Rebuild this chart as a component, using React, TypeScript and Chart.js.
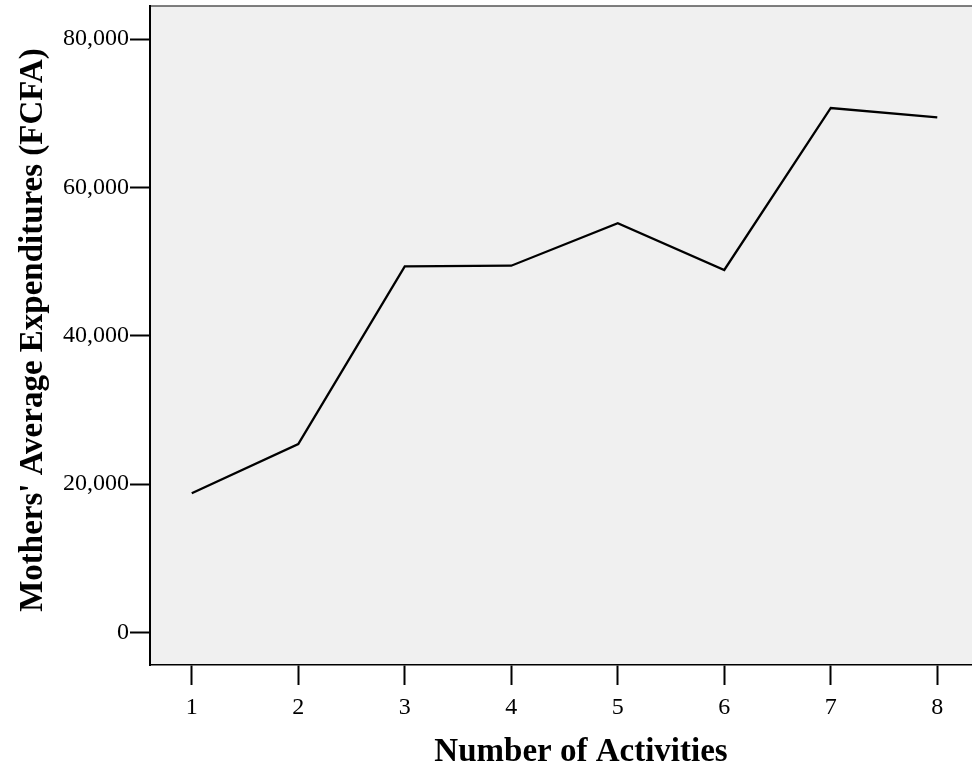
import React, { useEffect, useRef } from "react";
import { Chart, registerables } from "chart.js";

Chart.register(...registerables);

const activities = [1, 2, 3, 4, 5, 6, 7, 8];
const expenditures = [18750, 25390, 49360, 49440, 55160, 48860, 70710, 69450];
const yTickValues = [0, 20000, 40000, 60000, 80000];
const xTitle = "Number of Activities";
const yTitle = "Mothers' Average Expenditures (FCFA)";

const SERIF = "'Liberation Serif', 'Times New Roman', serif";

const backgroundPlugin = {
  id: "plotBg",
  beforeDraw(chart: any) {
    const { ctx, chartArea } = chart;
    if (!chartArea) return;
    ctx.save();
    ctx.fillStyle = "#f0f0f0";
    ctx.fillRect(chartArea.left, chartArea.top, chartArea.right - chartArea.left, chartArea.bottom - chartArea.top);
    ctx.strokeStyle = "#555555";
    ctx.lineWidth = 1.5;
    ctx.beginPath();
    ctx.moveTo(chartArea.left, chartArea.top);
    ctx.lineTo(chartArea.right, chartArea.top);
    ctx.stroke();
    ctx.restore();
  },
  afterDraw(chart: any) {
    const { ctx } = chart;
    ctx.save();
    ctx.fillStyle = "#000";
    ctx.font = `bold 33px ${SERIF}`;
    ctx.textAlign = "center";
    ctx.textBaseline = "middle";
    ctx.fillText(xTitle, 581, 752);
    ctx.translate(33, 330);
    ctx.rotate(-Math.PI / 2);
    ctx.fillText(yTitle, 0, 0);
    ctx.restore();
  },
};

export default function App() {
  const ref = useRef<HTMLCanvasElement>(null);
  useEffect(() => {
    document.body.style.margin = "0";
    const points = activities.map((a, i) => ({ x: a, y: expenditures[i] }));
    const chart = new Chart(ref.current as HTMLCanvasElement, {
      type: "line",
      data: {
        datasets: [
          {
            data: points,
            borderColor: "#000",
            borderWidth: 2.3,
            pointRadius: 0,
            fill: false,
            tension: 0,
          },
        ],
      },
      plugins: [backgroundPlugin],
      options: {
        animation: false,
        responsive: false,
        devicePixelRatio: 1,
        layout: { padding: { top: 6, left: 0, right: 0, bottom: 0 } },
        plugins: { legend: { display: false }, tooltip: { enabled: false }, title: { display: false } },
        scales: {
          x: {
            type: "linear",
            min: 0.608,
            max: 8.326,
            afterBuildTicks: (scale: any) => {
              scale.ticks = activities.map((v) => ({ value: v }));
            },
            afterFit: (scale: any) => {
              scale.height = 110;
              scale.paddingLeft = 0;
              scale.paddingRight = 0;
            },
            grid: { drawOnChartArea: false, tickLength: 20, tickWidth: 2, tickColor: "#000" },
            border: { color: "#000", width: 1.5 },
            ticks: {
              padding: 8,
              color: "#000",
              font: { family: SERIF, size: 24 },
              callback: (v: any) => String(v),
            },
          },
          y: {
            type: "linear",
            min: -4410,
            max: 84464,
            afterBuildTicks: (scale: any) => {
              scale.ticks = yTickValues.map((v) => ({ value: v }));
            },
            afterFit: (scale: any) => {
              scale.width = 150;
              scale.paddingTop = 0;
              scale.paddingBottom = 0;
            },
            grid: { drawOnChartArea: false, tickLength: 20, tickWidth: 2, tickColor: "#000" },
            border: { color: "#000", width: 2 },
            ticks: {
              padding: 1,
              color: "#000",
              font: { family: SERIF, size: 24 },
              callback: (v: any) => Number(v).toLocaleString("en-US"),
            },
          },
        },
      },
    });
    return () => chart.destroy();
  }, []);
  return (
    <div style={{ position: "absolute", left: 0, top: 0, width: 972, height: 775 }}>
      <canvas ref={ref} width={972} height={775} style={{ width: 972, height: 775, display: "block" }} />
    </div>
  );
}
